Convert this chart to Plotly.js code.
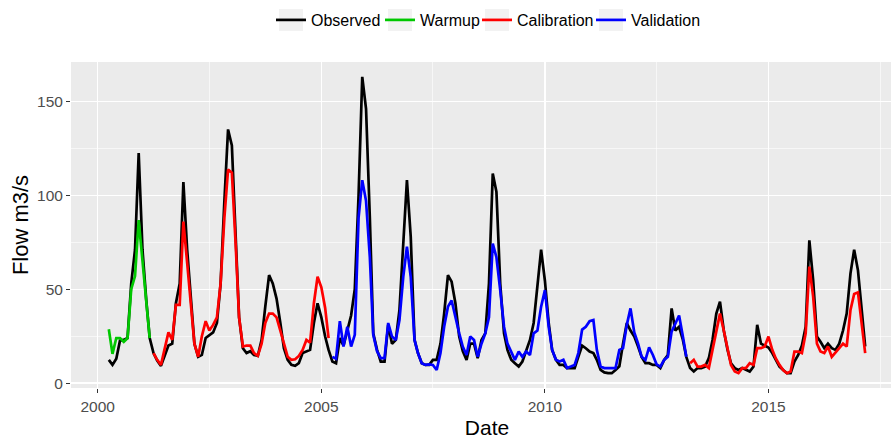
<!DOCTYPE html>
<html><head><meta charset="utf-8">
<script src="https://cdn.plot.ly/plotly-3.0.1.min.js"></script>
<style>html,body{margin:0;padding:0;overflow:hidden;background:#fff}#chart{width:903px;height:440px}</style>
</head><body><div id="chart"></div>
<script>
// Monthly series, first value = April 2000, last = March 2017
const firstYear = 2000, firstMonthIndex = 3; // April (0-based)

const observed = [
  12.4, 9.7, 13, 22.6, 23, 24, 53, 71, 122.5, 71, 44, 24,            // Apr 2000 - Mar 2001
  16, 12, 9.2, 14, 20, 21, 42.5, 53, 107, 71, 44, 21,                // Apr 2001 - Mar 2002
  14, 15, 24, 25.7, 27, 32, 53, 97, 135, 126.5, 78, 35,              // Apr 2002 - Mar 2003
  18.6, 16, 17, 15, 14.5, 23, 40.7, 57.5, 53, 45, 32, 18.6,          // Apr 2003 - Mar 2004
  12.4, 9.7, 9.2, 10.6, 16, 17, 17.7, 32, 42.5, 35, 24.8, 17.7,      // Apr 2004 - Mar 2005
  11.5, 10.6, 24, 20, 28, 36, 50, 100, 163, 146, 88, 26.5,           // Apr 2005 - Mar 2006
  17.7, 11.5, 11.5, 31, 21, 23, 39, 78, 108, 78, 23, 16,             // Apr 2006 - Mar 2007
  10.6, 9.7, 9.7, 12.4, 12.4, 21, 37, 57.5, 54, 42.5, 24.8, 17,      // Apr 2007 - Mar 2008
  12.4, 21, 21, 13.3, 23, 26.5, 53, 111.5, 101.8, 53, 26.5, 17.7,    // Apr 2008 - Mar 2009
  12.4, 10.6, 8.8, 11.5, 17.7, 23, 32, 53, 71, 54.5, 32, 17.7,       // Apr 2009 - Mar 2010
  12.4, 9.7, 9.7, 8, 8, 8, 14, 20, 18.6, 16.8, 16, 12.4,             // Apr 2010 - Mar 2011
  7, 5.7, 5.3, 5.3, 7, 9, 21, 32, 28, 24.8, 19.5, 14,                // Apr 2011 - Mar 2012
  10.6, 10.6, 9.7, 9.7, 8, 12.4, 15, 39.8, 28, 30, 23, 14,           // Apr 2012 - Mar 2013
  8, 6.2, 8, 8, 8.8, 13.3, 23, 37, 43.4, 28, 17.7, 10.6,             // Apr 2013 - Mar 2014
  8, 7, 8, 7, 6.2, 8.8, 31, 21, 20, 19, 16, 12.4,                    // Apr 2014 - Mar 2015
  8.8, 7, 5.3, 5.3, 11.5, 15, 20, 30, 76, 54.8, 24.8, 22,            // Apr 2015 - Mar 2016
  18.6, 21, 18.6, 17.7, 21, 28, 37, 58.4, 71, 60, 37, 19.5           // Apr 2016 - Mar 2017
];

// Warmup: Apr 2000 - Mar 2001
const warmup = [28.7, 15.6, 24, 24, 22, 24, 50, 57, 86.7, 64, 42.5, 24];

// Calibration (first part): Apr 2001 - Mar 2005
const calibrationA = [
  16, 12.4, 9.7, 17.7, 27, 23, 41.6, 41.6, 86, 64, 42.5, 21,
  14, 25, 33, 28, 31, 35, 53, 88, 113.6, 112, 74, 35,
  19.5, 20, 20, 16, 14.5, 21, 32, 37, 37, 35, 28, 21,
  14, 12.4, 12.7, 14.5, 17.7, 23, 21.6, 42.5, 56.6, 51, 40, 24
];

// Validation: Apr 2005 - Mar 2013
const validation = [
  14, 13, 33, 19.5, 30, 19.5, 25.7, 88, 108, 97, 67, 25.7,
  17, 13.3, 13.3, 32, 24.8, 23, 33.6, 56.6, 72.6, 56.6, 23, 16,
  10.6, 9.7, 10, 9.7, 7, 16, 30, 40.7, 44, 35, 26.5, 19.5,
  15, 24.8, 23, 14, 21, 26.5, 35, 74.3, 67, 49.5, 30, 21,
  16.8, 12.4, 16.8, 14, 16.8, 15, 26.5, 28, 40.7, 49.5, 30, 17.7,
  12.4, 11.5, 12.4, 8, 8.8, 9.7, 16, 28.5, 30, 33, 33.6, 17.7,
  8.8, 8, 8, 8, 8, 17.7, 18.6, 31, 39.8, 27, 21, 14,
  12.4, 19, 15, 10, 8.8, 12.4, 14, 27.4, 32, 36, 24.8, 14
];

// Calibration (second part): Apr 2013 - Mar 2017
const calibrationB = [
  10.6, 12.4, 8.8, 8.8, 9.7, 8, 17.7, 28, 37, 28, 17.7, 9.7,
  6.2, 5.3, 8, 8, 10.6, 9.7, 18.6, 18.6, 19.5, 24.8, 17.7, 13.3,
  9.7, 7, 5.3, 6.2, 16.8, 16.8, 16, 26.5, 62, 46, 21, 16.8,
  16, 19.5, 14, 16, 18.6, 21, 19.5, 39, 47.5, 48.3, 32, 16
];

// month offsets (from April 2000) where each period starts
const warmupOffset = 0, calibrationAOffset = 12, validationOffset = 60, calibrationBOffset = 156;

const legendNames = ['Observed', 'Warmup', 'Calibration', 'Validation'];
const seriesColors = ['#000000', '#00C800', '#FF0000', '#0000FF'];

function monthDates(offset, n) {
  const out = [];
  for (let i = 0; i < n; i++) {
    const k = firstMonthIndex + offset + i;
    const y = firstYear + Math.floor(k / 12), m = (k % 12) + 1;
    out.push(y + '-' + String(m).padStart(2, '0') + '-01');
  }
  return out;
}

const LW = 2.7;
const traces = [
  {x: monthDates(0, observed.length), y: observed, name: legendNames[0], legend: 'legend',
   mode: 'lines', line: {color: seriesColors[0], width: LW}},
  {x: monthDates(warmupOffset, warmup.length), y: warmup, name: legendNames[1], legend: 'legend2',
   mode: 'lines', line: {color: seriesColors[1], width: LW}},
  {x: monthDates(calibrationAOffset, calibrationA.length), y: calibrationA, name: legendNames[2], legend: 'legend3',
   legendgroup: 'cal', mode: 'lines', line: {color: seriesColors[2], width: LW}},
  {x: monthDates(calibrationBOffset, calibrationB.length), y: calibrationB, name: legendNames[2], legend: 'legend3',
   legendgroup: 'cal', showlegend: false, mode: 'lines', line: {color: seriesColors[2], width: LW}},
  {x: monthDates(validationOffset, validation.length), y: validation, name: legendNames[3], legend: 'legend4',
   mode: 'lines', line: {color: seriesColors[3], width: LW}}
];
traces.forEach(t => t.hoverinfo = 'skip');

// ggplot-like 5% expansion of the data range
const tMin = Date.UTC(2000, 3, 1), tMax = Date.UTC(2017, 2, 1);
const tPad = 0.05 * (tMax - tMin);
const iso = ms => new Date(ms).toISOString().replace('T', ' ').replace('Z', '');
const allY = observed.concat(warmup, calibrationA, calibrationB, validation);
const yMin = Math.min(...allY), yMax = Math.max(...allY), yPad = 0.05 * (yMax - yMin);

// page geometry (pixels)
const W = 903, H = 440, ML = 71, MR = 0, MT = 62, MB = 52;
const PW = W - ML - MR, PH = H - MT - MB;
const px2x = px => (px - ML) / PW;
const px2y = py => (H - MB - py) / PH;
const legendLefts = [271, 380, 477, 591];
const legendY = 20;

function legendBox(i) {
  const L = legendLefts[i];
  return {type: 'rect', xref: 'paper', yref: 'paper', layer: 'below',
          x0: px2x(L + 8), x1: px2x(L + 32), y0: px2y(legendY + 11), y1: px2y(legendY - 11),
          fillcolor: '#F2F2F2', line: {width: 0}};
}
function legendDef(i) {
  return {orientation: 'h', x: px2x(legendLefts[i]), xanchor: 'left', y: px2y(legendY), yanchor: 'middle',
          font: {size: 16, color: '#000'}, itemwidth: 30, bgcolor: 'rgba(0,0,0,0)', borderwidth: 0};
}

const layout = {
  width: W, height: H,
  margin: {l: ML, r: MR, t: MT, b: MB},
  paper_bgcolor: '#FFFFFF', plot_bgcolor: '#EBEBEB',
  font: {family: 'Liberation Sans, Arial, sans-serif', color: '#000'},
  showlegend: true,
  legend: legendDef(0), legend2: legendDef(1), legend3: legendDef(2), legend4: legendDef(3),
  shapes: [0, 1, 2, 3].map(legendBox),
  xaxis: {
    type: 'date', range: [iso(tMin - tPad), iso(tMax + tPad)],
    tick0: '2000-01-01', dtick: 'M60', tickformat: '%Y',
    ticks: 'outside', ticklen: 4, tickwidth: 1, tickcolor: '#333333',
    tickfont: {size: 15.5, color: '#4D4D4D'},
    showgrid: true, gridcolor: '#FFFFFF', gridwidth: 1.3,
    minor: {tick0: '2000-01-01', dtick: 'M30', showgrid: true, gridcolor: '#FFFFFF', gridwidth: 0.6, ticks: ''},
    zeroline: false, showline: false,
    title: {text: 'Date', font: {size: 21, color: '#000'}, standoff: 6}
  },
  yaxis: {
    range: [yMin - yPad, yMax + yPad], tick0: 0, dtick: 50,
    ticks: 'outside', ticklen: 4, tickwidth: 1, tickcolor: '#333333',
    tickfont: {size: 15.5, color: '#4D4D4D'},
    showgrid: true, gridcolor: '#FFFFFF', gridwidth: 1.3,
    minor: {tick0: 0, dtick: 25, showgrid: true, gridcolor: '#FFFFFF', gridwidth: 0.6, ticks: ''},
    zeroline: false, showline: false,
    title: {text: 'Flow m3/s', font: {size: 22, color: '#000'}, standoff: 2}
  }
};

Plotly.newPlot('chart', traces, layout, {displayModeBar: false, staticPlot: true});
</script></body></html>
